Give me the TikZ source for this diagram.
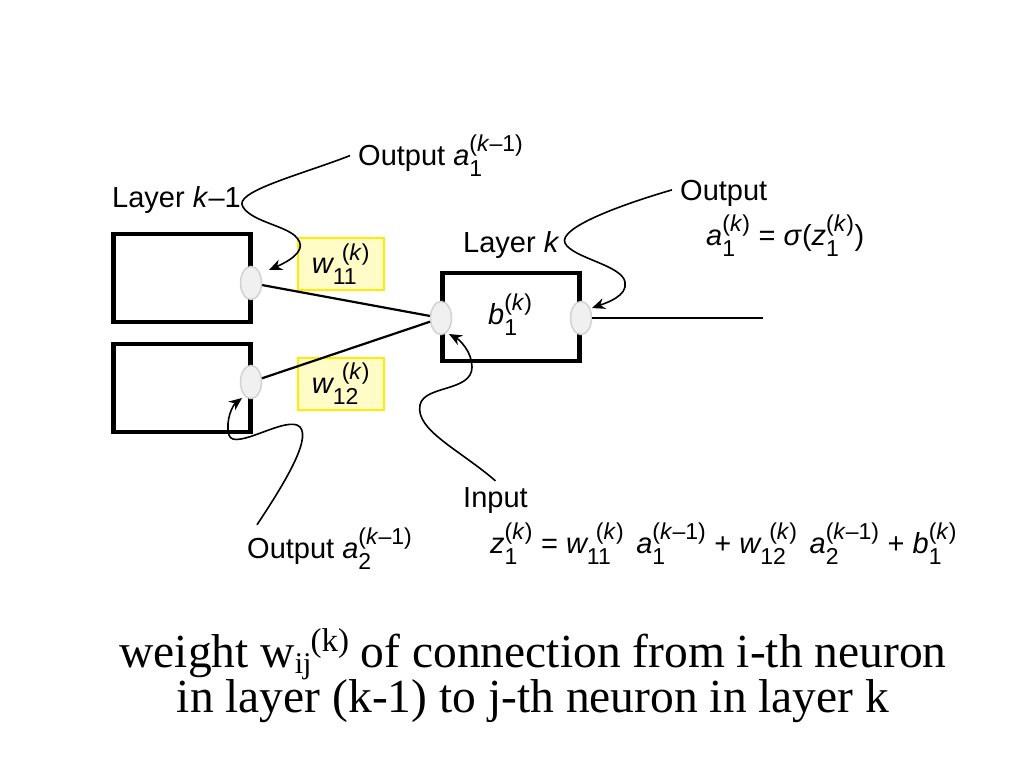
\documentclass[tikz,border=0pt]{standalone}
\usepackage{fontspec}
\usepackage{amsmath}
\setmainfont{Liberation Sans}
\newfontfamily\tnr{Liberation Serif}
\usetikzlibrary{arrows.meta,shapes.geometric}
\DeclareMathSizes{29}{29}{23}{17}
\newcommand\sv[3]{$\text{\itshape #1}^{\text{#2}}_{\text{#3}}$}
\newcommand\wv[3]{$\text{\itshape #1}^{\hspace{9pt}\text{#2}}_{\text{#3}}$}
\begin{document}
\begin{tikzpicture}[x=1pt,y=-1pt,
  lbl/.style={anchor=base west, inner sep=0pt, font=\fontsize{29}{34}\selectfont},
  layerbox/.style={draw=black, line width=4.5pt, minimum width=137pt, minimum height=88pt, inner sep=0pt},
  port/.style={ellipse, draw=gray!35, fill=gray!12, line width=1.5pt, minimum width=21pt, minimum height=33pt, inner sep=0pt},
  wbox/.style={draw=yellow!95!orange, fill=yellow!22, line width=2pt, minimum width=86pt, minimum height=52pt, inner sep=0pt, font=\fontsize{29}{34}\selectfont},
  conn/.style={line width=2.2pt},
  callout/.style={line width=1.6pt, -{Stealth[length=13pt,width=11pt]}},
  caption/.style={anchor=base, inner sep=0pt, font=\tnr\fontsize{47.5}{44}\selectfont},
]
\fill[white] (0,0) rectangle (1024,768);
\useasboundingbox (0,0) rectangle (1024,768);

% layer boxes
\node[layerbox] (L1) at (182,278) {};
\node[layerbox] (L2) at (182,388) {};
\node[layerbox] (K)  at (511,317) {};

% weight boxes
\node[wbox] (w11) at (341,264) {\wv{w}{(\textit{k})}{11}};
\node[wbox] (w12) at (341,384) {\wv{w}{(\textit{k})}{12}};

% ports
\node[port] (e1) at (251,283) {};
\node[port] (e2) at (251,382) {};
\node[port] (ek1) at (441,318) {};
\node[port] (ek2) at (581,318) {};
\coordinate (out) at (763,318);

% connections
\draw[conn] (e1) -- (ek1);
\draw[conn] (e2) -- (ek1);
\draw[conn] (ek2) -- (out);

% labels
\node[lbl] (tL1) at (112,207) {Layer \textit{k}–1};
\node[lbl] (tO1) at (358,165) {Output \sv{a}{(\textit{k}–1)}{1}};
\node[lbl] (tLk) at (463,252) {Layer \textit{k}};
\node[lbl] (tO)  at (680,200) {Output};
\node[lbl] (tOe) at (706,245) {\sv{a}{(\textit{k})}{1} = \textit{σ}(\sv{z}{(\textit{k})}{1})};
\node[lbl] (tb)  at (488,324) {\sv{b}{(\textit{k})}{1}};
\node[lbl] (tIn) at (463,507) {Input};
\node[lbl] (tEq) at (490,553) {\sv{z}{(\textit{k})}{1} = \wv{w}{(\textit{k})}{11}\hspace{4pt} \sv{a}{(\textit{k}–1)}{1} + \wv{w}{(\textit{k})}{12}\hspace{4pt} \sv{a}{(\textit{k}–1)}{2} + \sv{b}{(\textit{k})}{1}};
\node[lbl] (tO2) at (247,558) {Output \sv{a}{(\textit{k}–1)}{2}};

% callouts
\draw[callout] (tO1.west) ++(-8,0) .. controls (300,175) and (232,192) .. (243,207)
  .. controls (252,222) and (288,226) .. (297,238)
  .. controls (306,248) and (296,258) .. (269,270);
\draw[callout] (tO.west) ++(-8,-3) .. controls (620,205) and (558,228) .. (565,243)
  .. controls (572,258) and (622,265) .. (625,282)
  .. controls (628,296) and (606,303) .. (592,308);
\draw[callout] (tIn.north) ++(0,-6) .. controls (460,450) and (415,430) .. (420,405)
  .. controls (424,385) and (472,392) .. (472,367)
  .. controls (472,352) and (460,340) .. (449,334);
\draw[callout] (tO2.north west) ++(10,-3) .. controls (280,490) and (312,440) .. (300,427)
  .. controls (288,414) and (234,452) .. (229,435)
  .. controls (225,420) and (233,405) .. (242,398);

% caption
\node[caption] (c1) at (533,667) {weight w\raisebox{-6.5pt}{\fontsize{30}{30}\selectfont ij}\kern-1pt\raisebox{16pt}{\fontsize{33}{33}\selectfont (k)} of connection from i-th neuron};
\node[caption] (c2) at (533,712) {in layer (k-1) to j-th neuron in layer k};
\end{tikzpicture}
\end{document}
